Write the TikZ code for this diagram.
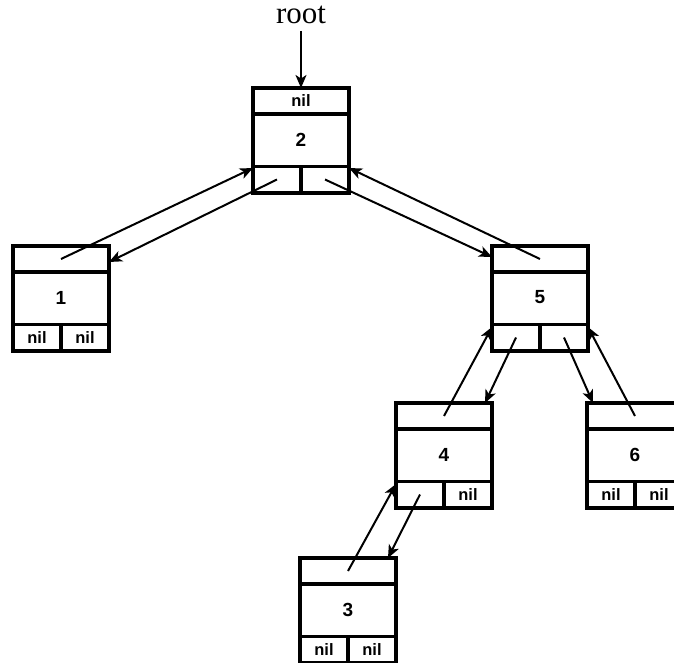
\documentclass[tikz,border=0pt]{standalone}
\usepackage{fontspec}
\setmainfont{Liberation Serif}
\setsansfont{Liberation Sans}
\usetikzlibrary{arrows.meta,calc}
\tikzset{
  box/.style={draw, line width=3.2pt, rectangle, minimum width=96pt, minimum height=105pt, inner sep=0pt, outer sep=0pt},
  divider/.style={line width=3.2pt},
  keylabel/.style={font=\sffamily\bfseries\fontsize{19}{19}\selectfont, inner sep=0pt},
  nillabel/.style={font=\sffamily\bfseries\fontsize{16.5}{16.5}\selectfont, inner sep=0pt},
  ptr/.style={line width=2pt, -{Stealth[length=13pt,width=11pt,inset=3.5pt]}},
  rootlabel/.style={font=\fontsize{31}{31}\selectfont, inner sep=0pt, anchor=base}
}
\newcommand{\bstbox}[6]{%
  \node[box, anchor=north west] (#1) at (#2,#3) {};
  \draw[divider] ([yshift=-26pt]#1.north west) -- ([yshift=-26pt]#1.north east);
  \draw[divider] ([yshift=26.5pt]#1.south west) -- ([yshift=26.5pt]#1.south east);
  \draw[divider] (#1.south) -- ([yshift=26.5pt]#1.south);
  \node[keylabel] (#1-key) at ([yshift=1pt]#1.center) {#4};
  \coordinate (#1-p) at ([yshift=-13pt]#1.north);
  \coordinate (#1-l) at ([xshift=-24pt,yshift=13.5pt]#1.south);
  \coordinate (#1-r) at ([xshift=24pt,yshift=13.5pt]#1.south);
  \if\relax\detokenize{#5}\relax\else\node[nillabel] (#1-lt) at (#1-l) {#5};\fi
  \if\relax\detokenize{#6}\relax\else\node[nillabel] (#1-rt) at (#1-r) {#6};\fi
}
\begin{document}
\begin{tikzpicture}[x=1pt,y=-1pt]
\useasboundingbox (0,0) rectangle (674,663);
\clip (0,0) rectangle (674,663);
\node[rootlabel] (root) at (301,24) {root};
\bstbox{n2}{253}{88}{2}{}{}
\node[nillabel] (n2-nil) at ([yshift=-13pt]n2.north) {nil};
\bstbox{n1}{13}{246}{1}{nil}{nil}
\bstbox{n5}{492}{246}{5}{}{}
\bstbox{n4}{396}{403}{4}{}{nil}
\bstbox{n6}{587}{403}{6}{nil}{nil}
\bstbox{n3}{300}{558}{3}{nil}{nil}
\draw[ptr] ([yshift=-7pt]root.base) -- (n2.north);
\draw[ptr] (n1-p) -- ([yshift=25pt]n2.south west);
\draw[ptr] (n5-p) -- ([yshift=25pt]n2.south east);
\draw[ptr] (n2-l) -- ([yshift=-16pt]n1.north east);
\draw[ptr] (n2-r) -- ([yshift=-11pt]n5.north west);
\draw[ptr] (n4-p) -- ([yshift=24pt]n5.south west);
\draw[ptr] (n6-p) -- ([yshift=24pt]n5.south east);
\draw[ptr] (n5-l) -- ([xshift=-7pt]n4.north east);
\draw[ptr] (n5-r) -- ([xshift=6pt]n6.north west);
\draw[ptr] (n3-p) -- ([yshift=24pt]n4.south west);
\draw[ptr] (n4-l) -- ([xshift=-8pt]n3.north east);
\end{tikzpicture}
\end{document}
